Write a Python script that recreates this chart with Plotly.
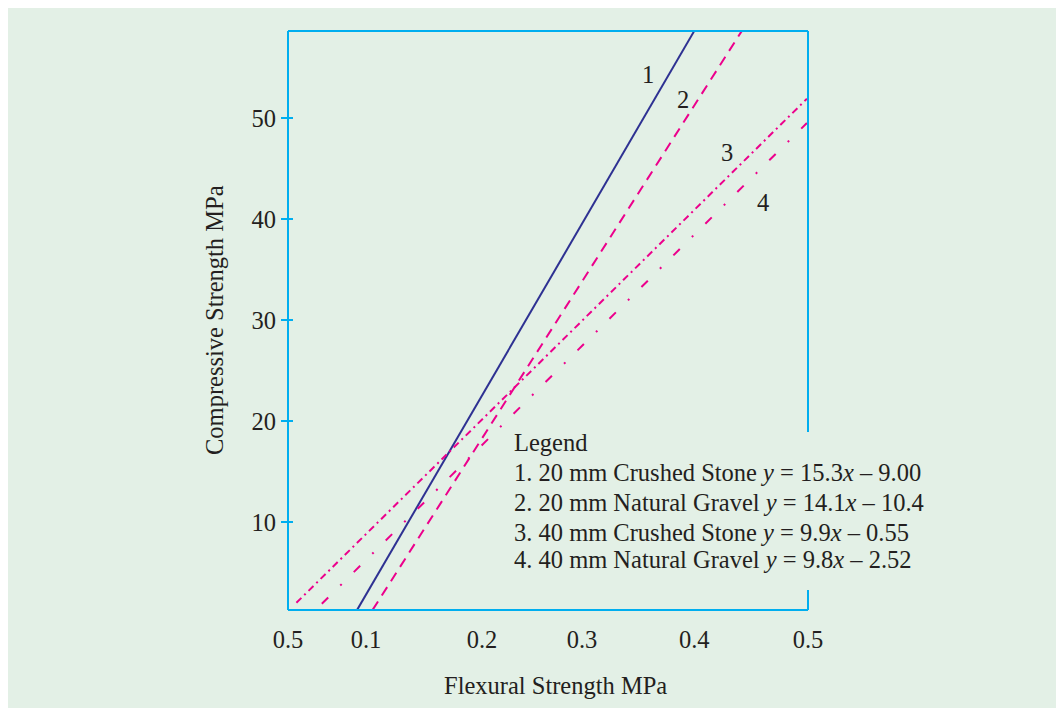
import plotly.graph_objects as go

# ---- data ----
series_names = ["1", "2", "3", "4"]
line1_x = [0.092, 0.397]
line1_y = [1.3, 58.6]
line2_x = [0.106, 0.440]
line2_y = [1.3, 58.6]
line3_x = [0.037, 0.499]
line3_y = [2.0, 51.9]
line4_x = [0.060, 0.499]
line4_y = [1.9, 49.5]

x_tickvals = [0.0294, 0.1, 0.205, 0.2955, 0.397, 0.5]
x_ticktext = ["0.5", "0.1", "0.2", "0.3", "0.4", "0.5"]
y_tickvals = [10, 20, 30, 40, 50]

legend_lines = [
    "Legend",
    "1. 20 mm Crushed Stone <i>y</i> = 15.3<i>x</i> – 9.00",
    "2. 20 mm Natural Gravel <i>y</i> = 14.1<i>x</i> – 10.4",
    "3. 40 mm Crushed Stone <i>y</i> = 9.9<i>x</i> – 0.55",
    "4. 40 mm Natural Gravel <i>y</i> = 9.8<i>x</i> – 2.52",
]

# ---- style ----
FONT = "Liberation Serif"
TXT = "#231F20"
CYAN = "#00AEEF"
NAVY = "#2E3192"
PINK = "#EC008C"
BG = "#E3F0E6"
FS = 24.5

fig = go.Figure()
fig.add_trace(go.Scatter(x=line1_x, y=line1_y, mode="lines", name=series_names[0],
                         line=dict(color=NAVY, width=2)))
fig.add_trace(go.Scatter(x=line2_x, y=line2_y, mode="lines", name=series_names[1],
                         line=dict(color=PINK, width=2, dash="10px,7px")))
fig.add_trace(go.Scatter(x=line3_x, y=line3_y, mode="lines", name=series_names[2],
                         line=dict(color=PINK, width=2, dash="7px,4px,2px,4px")))
fig.add_trace(go.Scatter(x=line4_x, y=line4_y, mode="lines", name=series_names[3],
                         line=dict(color=PINK, width=2, dash="9px,17px,2px,17px")))
# invisible trace to activate the overlaid y axis (inner tick halves)
fig.add_trace(go.Scatter(x=[line1_x[0]], y=[line1_y[0]], yaxis="y2", mode="markers",
                         marker=dict(opacity=0), hoverinfo="skip", showlegend=False))

xr = [0.0294, 0.5]
yr = [1.287, 58.61]

fig.update_layout(
    width=1064, height=708,
    margin=dict(l=280, r=264, t=23, b=106),
    paper_bgcolor=BG,
    plot_bgcolor=BG,
    showlegend=False,
    font=dict(family=FONT, size=FS, color=TXT),
    xaxis=dict(range=xr, tickvals=x_tickvals, ticktext=x_ticktext,
               ticks="outside", ticklen=8, tickcolor="rgba(0,0,0,0)",
               showgrid=False, zeroline=False, showline=False,
               tickfont=dict(family=FONT, size=FS, color=TXT)),
    yaxis=dict(range=yr, tickvals=y_tickvals, ticks="outside", ticklen=6,
               tickwidth=2, tickcolor=CYAN, ticklabelstandoff=0,
               showgrid=False, zeroline=False, showline=False,
               tickfont=dict(family=FONT, size=FS, color=TXT)),
    yaxis2=dict(range=yr, overlaying="y", side="left", tickvals=y_tickvals,
                ticks="inside", ticklen=5, tickwidth=2, tickcolor=CYAN,
                showticklabels=False, showgrid=False, zeroline=False, showline=False),
)

# axes box (right side interrupted by the legend text)
box = dict(color=CYAN, width=2)
fig.add_shape(type="line", xref="paper", yref="paper", x0=0, x1=0, y0=0, y1=1, line=box)
fig.add_shape(type="line", xref="paper", yref="paper", x0=0, x1=1, y0=0, y1=0, line=box)
fig.add_shape(type="line", xref="paper", yref="paper", x0=0, x1=1, y0=1, y1=1, line=box)
fig.add_shape(type="line", xref="paper", yref="paper", x0=1, x1=1, y0=0.3074, y1=1, line=box)
fig.add_shape(type="line", xref="paper", yref="paper", x0=1, x1=1, y0=0, y1=0.0345, line=box)

# line number labels
for txt, (lx, ly) in zip(series_names, [(0.355, 54.3), (0.387, 51.8), (0.4267, 46.6), (0.4593, 41.6)]):
    fig.add_annotation(x=lx, y=ly, text=txt, showarrow=False,
                       font=dict(family=FONT, size=FS, color=TXT))

# legend text block
for txt, py in zip(legend_lines, [0.2885, 0.237, 0.1865, 0.1347, 0.0864]):
    fig.add_annotation(xref="paper", yref="paper", x=0.4308, y=py, text=txt,
                       showarrow=False, xanchor="left", yanchor="middle",
                       font=dict(family=FONT, size=FS, color=TXT))

# axis titles
fig.add_annotation(xref="paper", yref="paper", x=0.515, y=-0.131,
                   text="Flexural Strength MPa", showarrow=False,
                   xanchor="center", yanchor="middle",
                   font=dict(family=FONT, size=FS, color=TXT))
fig.add_annotation(xref="paper", yref="paper", x=-0.1404, y=0.5009,
                   text="Compressive Strength MPa", showarrow=False, textangle=-90,
                   xanchor="center", yanchor="middle",
                   font=dict(family=FONT, size=FS, color=TXT))

fig.write_html("out.html")
